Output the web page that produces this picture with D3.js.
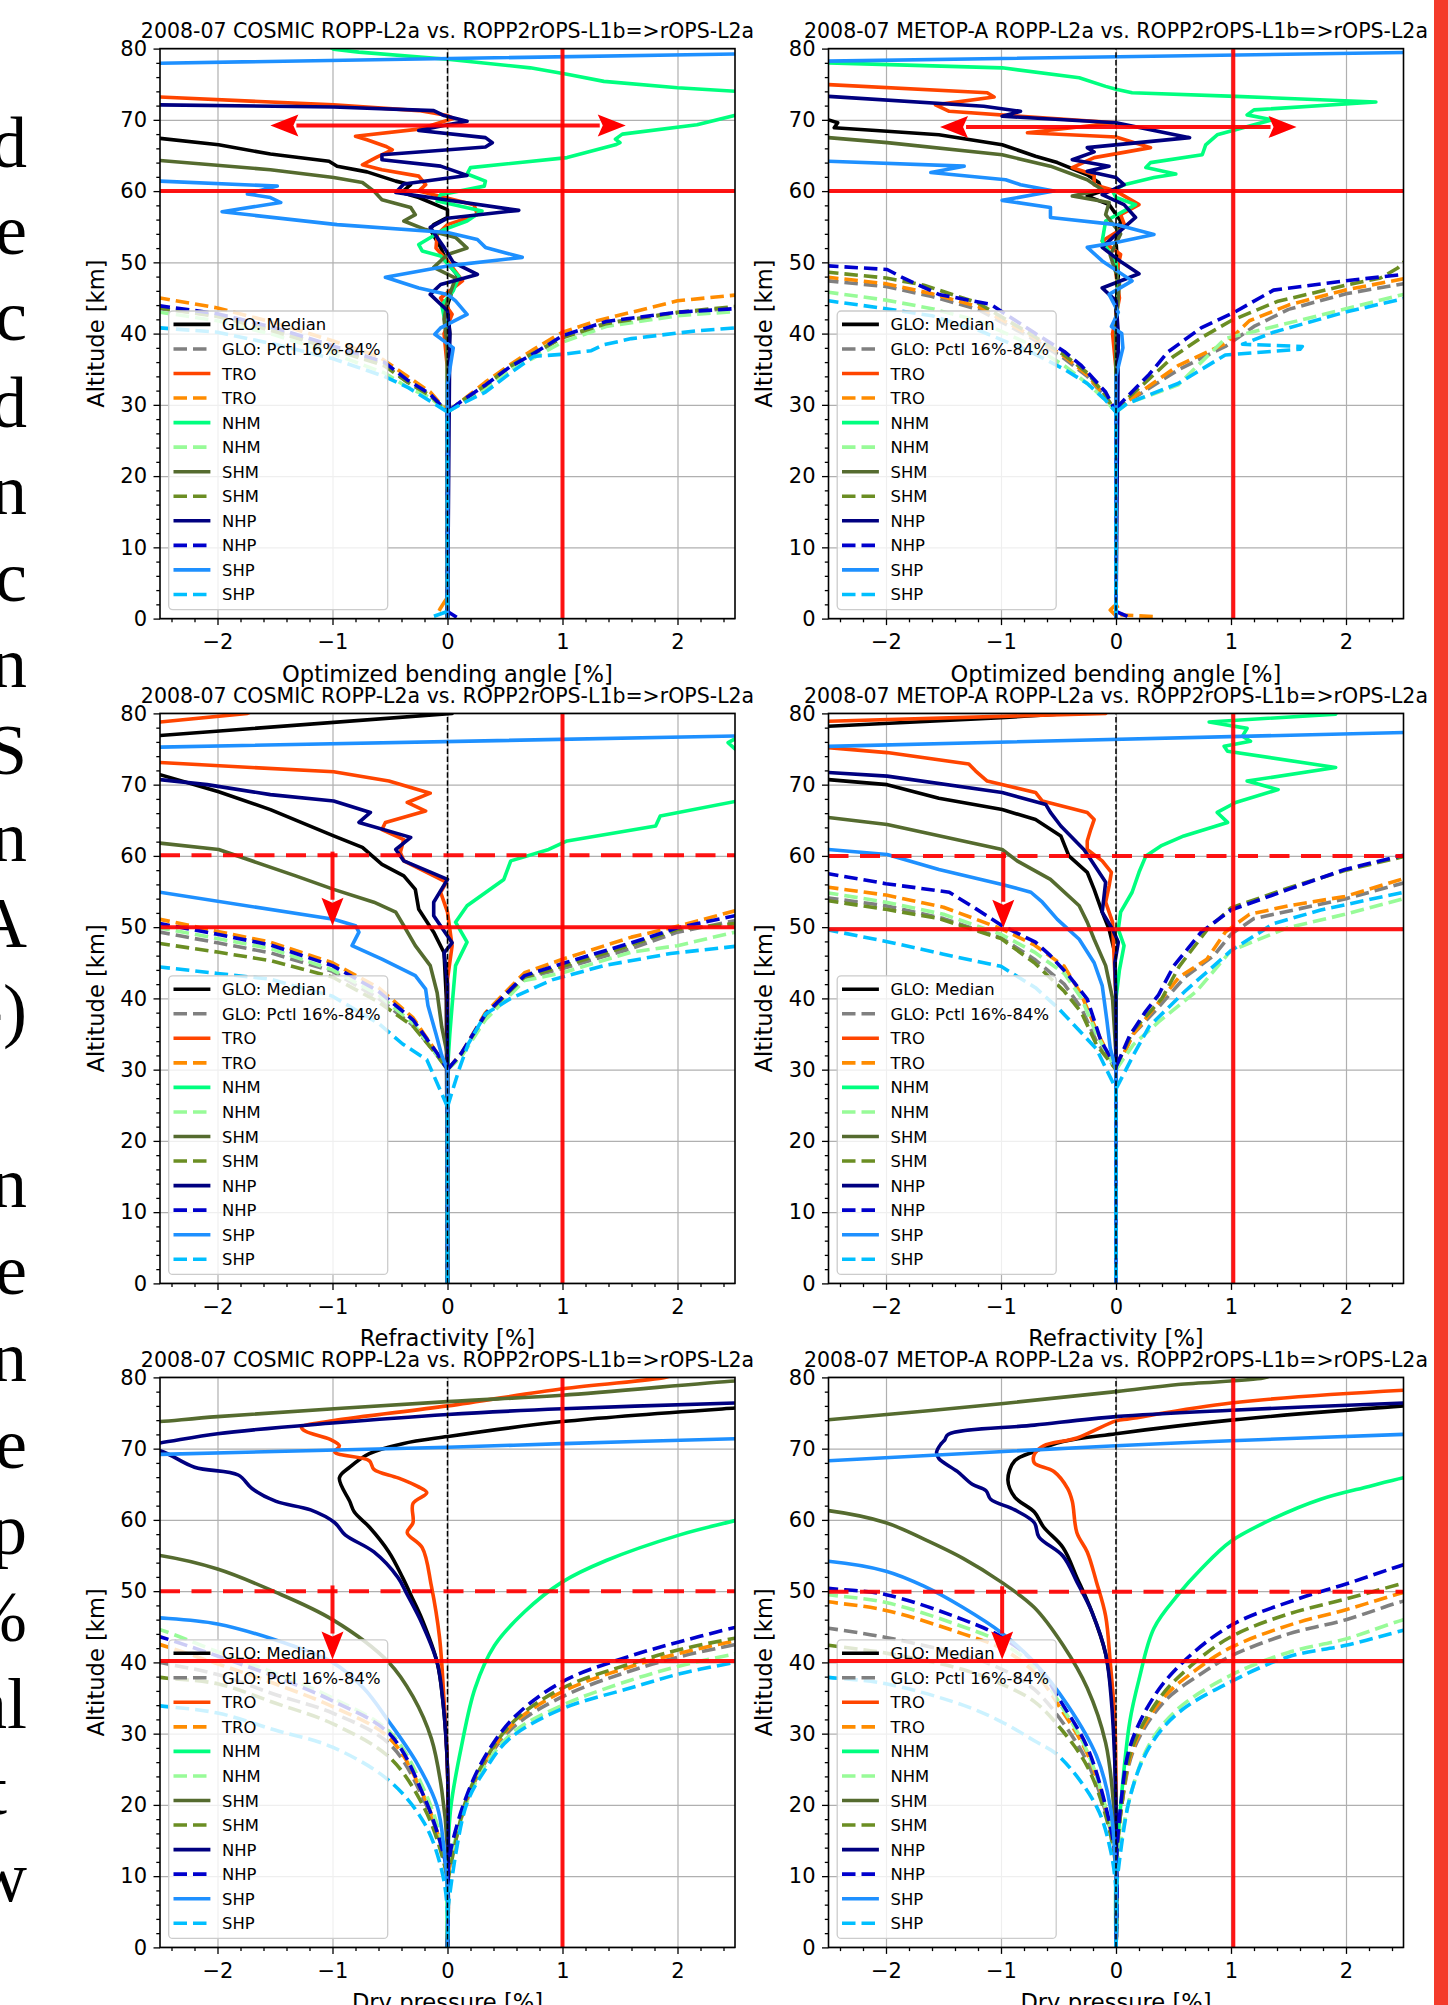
<!DOCTYPE html>
<html>
<head>
<meta charset="utf-8">
<script src="https://cdn.jsdelivr.net/npm/d3@7"></script>
<style>
  body { margin: 0; background: #fff; }
  svg  { display: block; }
</style>
</head>
<body>
<script>
/* ── Figure layout ─────────────────────────────────────────── */
const FIG_W = 1448, FIG_H = 2005;
const AX_W = 575, AX_H = 570;
const COL_LEFT = [160, 828.5];
const ROW_TOP  = [48.6, 713.4, 1377.4];
const FONT = "DejaVu Sans";
const LW = 3.6, DASH = "13.5,6";

/* ── Axes / ticks / labels ─────────────────────────────────── */
const X_DOMAIN = [-2.5, 2.5];
const Y_DOMAIN = [0, 80];
const X_TICKS  = [-2, -1, 0, 1, 2];
const Y_TICKS  = [0, 10, 20, 30, 40, 50, 60, 70, 80];
const X_MINOR  = d3.range(-12, 13).map(i => i * 0.2).filter(v => Math.abs(v - Math.round(v)) > 1e-6);
const Y_MINOR  = d3.range(0, 81, 2).filter(v => v % 10 !== 0);
const TITLES   = ["2008-07 COSMIC ROPP-L2a vs. ROPP2rOPS-L1b=>rOPS-L2a",
                  "2008-07 METOP-A ROPP-L2a vs. ROPP2rOPS-L1b=>rOPS-L2a"];
const XLABELS  = ["Optimized bending angle [%]", "Refractivity [%]", "Dry pressure [%]"];
const YLABEL   = "Altitude [km]";

/* ── Legend ────────────────────────────────────────────────── */
const LEG_LABELS = ["GLO: Median", "GLO: Pctl 16%-84%", "TRO", "TRO", "NHM", "NHM",
                    "SHM", "SHM", "NHP", "NHP", "SHP", "SHP"];
const LEG_COLORS = ["#000000", "#808080", "#ff4500", "#ff8c00", "#00ff7f", "#98fb98",
                    "#556b2f", "#6b8e23", "#000080", "#0000cd", "#1e90ff", "#00bfff"];
const LEG_DASHED = [false, true, false, true, false, true, false, true, false, true, false, true];

/* ── Text fragments cut at the left page edge ──────────────── */
const EDGE_TEXT = ["d", "e", "c", "d", "n", "c", "n", "S", "n", "A", "-)", "",
                   "n", "e", "n", "e", "p", "%", "al", "t", "w"];

/* ── Red guide lines & arrows per panel ────────────────────── */
const RED_V        = [1.0, 1.02, 1.0, 1.02, 1.0, 1.02];
const RED_H_SOLID  = [60, 60, 50, 49.7, 40.2, 40.2];
const RED_H_DASHED = [null, null, 60.1, 60, 50, 49.9];
const ARROW_2WAY   = [[-1.54, 1.55, 69.2], [-1.53, 1.57, 69.0], null, null, null, null];
const ARROW_DOWN   = [null, null, [-1, 60.6, 50.2], [-0.98, 60.5, 49.9], [-1, 50.8, 40.4], [-0.99, 50.7, 40.4]];

/* ═══ DATA: [percent deviation, altitude km] ═══════════════════ */
/* Bending angle, COSMIC */
const BA_C_MED = [[-2.7,67.5],[-2.5,67.4],[-1.99,66.5],[-1.54,65.2],[-1.03,64.2],[-0.96,63.5],[-0.7,62.7],[-0.45,61.4],[-0.32,60.9],[-0.4,59.8],[-0.25,59.1],[0,57.4],[0,56.3],[-0.12,55.3],[-0.15,54.6],[-0.06,52.1],[-0.01,50.2],[0.1,47.9],[0.05,46.5],[0,44],[0.02,40],[0,35],[0,0]];
const BA_C_GLO_LO = [[-2.7,43.6],[-2.5,43.5],[-2,42.5],[-1.5,40.5],[-1,38],[-0.55,35.7],[-0.35,33.2],[-0.15,31.3],[0,29],[0,0]];
const BA_C_GLO_HI = [[0,29],[0.12,30.4],[0.33,32.5],[0.54,35.1],[0.75,37],[1,39.5],[1.38,41.5],[2,42.9],[2.5,43.6],[2.7,43.7]];
const BA_C_TRO = [[-2.7,73.3],[-2.5,73.2],[-0.99,72.1],[-0.25,71.3],[0,70.6],[0.05,70.2],[-0.25,68.7],[-0.8,67.7],[-0.7,67.2],[-0.54,66.3],[-0.48,65.8],[-0.61,64.8],[-0.74,63.7],[-0.57,63],[-0.25,62.1],[-0.19,60.9],[-0.25,60],[0.23,58.1],[0.26,56.7],[0,55.3],[-0.09,53.9],[-0.1,52],[0,50.2],[0.13,47.4],[-0.06,45],[0.04,42.7],[-0.03,40],[0,35],[0,0]];
const BA_C_TRO_LO = [[-2.7,45.1],[-2.5,45],[-2,43.6],[-1.5,41.5],[-1,39],[-0.6,36.8],[-0.35,34],[-0.15,31.8],[0,29],[0,3],[-0.06,1.5],[-0.1,0.3]];
const BA_C_TRO_HI = [[0,29],[0.12,30.5],[0.33,33.2],[0.54,35.6],[0.75,37.8],[1,40.2],[1.3,41.8],[1.6,43],[2,44.6],[2.5,45.4],[2.7,45.6]];
const BA_C_NHM = [[-1.1,81],[-0.99,79.9],[-0.77,79.5],[0,78.5],[0.72,77.3],[1.04,76.4],[1.36,75.4],[2,74.5],[2.52,74],[2.7,73.9],[3,72],[2.7,70.8],[2.52,70.7],[2.17,69.3],[1.52,68],[1.46,67.3],[1.5,66.8],[1.46,66.5],[1.04,64.7],[0.2,63.3],[0.17,62.4],[0.33,61.4],[0.32,60.7],[-0.06,59.5],[-0.09,58.6],[0.3,57.2],[0.17,55.8],[-0.03,54.6],[-0.25,52.5],[-0.22,51.6],[-0.06,50.9],[0.1,48],[0.05,46],[-0.05,44],[0,40],[0,0]];
const BA_C_NHM_LO = [[-2.7,43.2],[-2.5,43],[-2,41.8],[-1.5,39.8],[-1,37.2],[-0.55,34.5],[-0.35,32.5],[-0.15,31],[0,29],[0,0]];
const BA_C_NHM_HI = [[0,29],[0.12,30.2],[0.33,32.2],[0.54,34.8],[0.75,36.6],[1,38.8],[1.38,41],[2,42.5],[2.5,43.1],[2.7,43.2]];
const BA_C_SHM = [[-2.7,64.4],[-2.5,64.3],[-1.54,63],[-0.99,61.9],[-0.74,61.2],[-0.64,60],[-0.57,58.8],[-0.32,57.7],[-0.28,56.7],[-0.38,55.8],[-0.19,54.6],[0.07,53.5],[0.17,52],[0,51.1],[-0.12,49.3],[0.07,47.8],[0,44.6],[-0.03,42],[0,38],[0,0]];
const BA_C_SHM_LO = [[-2.7,43.7],[-2.5,43.6],[-2,42.4],[-1.5,40.3],[-1,37.8],[-0.55,35.5],[-0.35,33.2],[-0.15,31.3],[0,29],[0,0]];
const BA_C_SHM_HI = [[0,29],[0.12,30.5],[0.33,32.7],[0.54,35.4],[0.75,37.3],[1,39.4],[1.38,41.4],[2,43],[2.5,43.8],[2.7,43.9]];
const BA_C_NHP = [[-2.7,72.2],[-2.5,72.1],[-0.99,71.8],[-0.12,71.3],[-0.03,70.6],[0.17,69.8],[0,69.3],[-0.25,68.5],[0.33,67.5],[0.39,66.8],[0.33,66.2],[-0.57,65.1],[-0.57,64.4],[-0.06,63.5],[0.17,62.2],[-0.38,61],[-0.45,59.8],[0.62,57.3],[0,56.2],[-0.15,54.9],[-0.03,52.1],[0.05,50],[0.26,48.3],[-0.06,46.9],[-0.15,45.5],[0,43.2],[0.02,40],[0,0]];
const BA_C_NHP_LO = [[-2.7,44],[-2.5,43.9],[-2,42.8],[-1.5,40.8],[-1,38.3],[-0.55,36],[-0.35,33.5],[-0.15,31.5],[0,29],[0,0]];
const BA_C_NHP_HI = [[0.08,0.2],[0,1],[0,29],[0.12,30.5],[0.33,32.8],[0.54,35.3],[0.75,37.2],[1,39.7],[1.38,41.7],[2,43],[2.5,43.5],[2.7,43.6]];
const BA_C_SHP = [[2.7,79.3],[-2.7,77.9],[-3,70],[-2.7,61.5],[-2.5,61.4],[-1.48,60.7],[-1.74,59.6],[-1.54,59.1],[-1.45,58.4],[-1.96,57.1],[-0.96,55.3],[0,54.2],[0.26,53.2],[0.33,52.1],[0.65,50.7],[0,49.5],[-0.54,47.9],[-0.25,46.4],[0,45.5],[0.07,44.6],[0.17,42.7],[-0.06,40.8],[-0.11,39.9],[0.05,38],[0.03,36],[0,33],[0,0]];
const BA_C_SHP_LO = [[-2.7,40.9],[-2.5,40.8],[-2,40.2],[-1.5,38.5],[-1,36.5],[-0.55,34],[-0.35,32.5],[-0.15,30.5],[0,29],[0,1],[-0.14,0.2]];
const BA_C_SHP_HI = [[0,29],[0.12,30.1],[0.33,31.8],[0.55,34.5],[0.75,36.8],[1,37.1],[1.25,37.6],[1.35,38.4],[1.6,39.3],[2.17,40.4],[2.5,40.8],[2.7,40.9]];

/* Bending angle, METOP-A */
const BA_M_MED = [[-2.7,70.1],[-2.5,70],[-2.42,69.6],[-2.45,68.9],[-1.99,68.4],[-1.54,67.9],[-0.99,66.5],[-0.7,64.9],[-0.51,64],[-0.25,62.3],[-0.15,61.2],[-0.12,60],[-0.25,59.3],[-0.06,58.1],[0.04,55.8],[0,53],[0.02,48],[0,44],[0,0]];
const BA_M_GLO_LO = [[-2.7,47.5],[-2.5,47.4],[-2,46.6],[-1.6,45.2],[-1.2,43.4],[-0.75,39.5],[-0.45,36.5],[-0.25,34],[-0.1,31.2],[0,29],[0,0]];
const BA_M_GLO_HI = [[0,29],[0.1,30.4],[0.55,35],[0.95,38.2],[1.2,41],[1.5,43.4],[2,45.6],[2.5,47],[2.7,47.3]];
const BA_M_TRO = [[-2.7,75],[-2.5,74.95],[-1.12,73.8],[-1.06,73.2],[-1.57,72.1],[-1.45,71.2],[-0.83,70.5],[0,69.6],[-0.77,68.2],[0,67.6],[0.3,66.1],[-0.19,64.7],[-0.38,63.3],[-0.19,62.3],[-0.19,60.9],[0,60],[0.2,58.1],[0.04,56.7],[0.08,55],[-0.12,53],[0.04,51.1],[0,48.3],[0.03,45],[-0.03,40],[0,35],[0,0]];
const BA_M_TRO_LO = [[-2.7,48],[-2.5,47.9],[-2,47],[-1.6,45.6],[-1.2,43.8],[-0.75,39.8],[-0.45,36.8],[-0.25,34.2],[-0.1,31.3],[0,29],[0,2],[-0.05,1.2],[0,0.4]];
const BA_M_TRO_HI = [[0.32,0.3],[0.05,0.5],[0,2],[0,29],[0.1,30.5],[0.54,35.5],[0.95,38.6],[1.16,41.8],[1.5,44],[1.99,46.1],[2.5,47.7],[2.7,48]];
const BA_M_NHM = [[-2.7,78.1],[-2.5,78],[-0.99,77.3],[-0.32,75.9],[-0.09,74.7],[0,74.3],[0.14,73.8],[1.04,73.3],[2.26,72.5],[1.2,71.4],[1.14,70.7],[1.36,70],[0.88,67.9],[0.78,66.5],[0.75,65.1],[0.3,64],[0.26,63.3],[0.52,62.4],[0.33,61.9],[0.07,60.9],[-0.03,60],[0,59.1],[0.17,58.1],[-0.09,55.8],[-0.12,53],[0,50],[0.02,46],[0,40],[0,0]];
const BA_M_NHM_LO = [[-2.7,45.9],[-2.5,45.8],[-2,44.7],[-1.6,43.5],[-1.2,41.8],[-0.75,38.5],[-0.45,35.5],[-0.25,33],[-0.1,30.8],[0,29],[0,0]];
const BA_M_NHM_HI = [[0,29],[0.1,30.2],[0.54,32.8],[0.95,39.3],[1.58,41.8],[2.2,44.3],[2.5,45.5],[2.7,45.7]];
const BA_M_SHM = [[-2.7,67.6],[-2.5,67.5],[-1.99,66.8],[-0.99,65.1],[-0.57,63.5],[-0.25,61.6],[-0.12,60.2],[-0.38,59.3],[-0.06,58.4],[-0.09,56.7],[0.04,54],[-0.05,51],[0.03,47],[0,42],[0,0]];
const BA_M_SHM_LO = [[-2.7,48.7],[-2.5,48.6],[-2,47.8],[-1.67,46.8],[-1.2,44.3],[-0.75,40],[-0.45,37],[-0.25,34.5],[-0.1,31.5],[0,29],[0,0]];
const BA_M_SHM_HI = [[0,29],[0.05,30.2],[0.3,33.8],[0.5,36.8],[0.75,39.5],[1,41.8],[1.4,44.5],[2,46.8],[2.3,47.8],[2.45,49.2],[2.5,50],[2.7,50.5]];
const BA_M_NHP = [[-2.7,73.4],[-2.5,73.3],[-1.15,71.9],[-0.83,71.2],[-0.99,70.5],[0,69.6],[0.64,67.5],[-0.25,66.1],[-0.19,65.5],[-0.38,64.4],[-0.06,63.5],[-0.25,62.8],[0,61.9],[0.07,60.9],[-0.12,59.5],[0.07,58.1],[0.17,56.3],[0,53.9],[-0.12,52.1],[0.05,50],[0.2,48.4],[-0.12,46.4],[0,44.6],[0.02,40],[0,0]];
const BA_M_NHP_LO = [[-2.7,49.6],[-2.5,49.5],[-1.99,49],[-1.86,47.9],[-1.54,45.5],[-1.09,44.1],[-0.7,40],[-0.45,37.5],[-0.3,35.5],[-0.09,31.8],[0,29],[0,0]];
const BA_M_NHP_HI = [[0.1,0.3],[0,1],[0,29],[0.04,30.2],[0.29,34.3],[0.45,37.4],[0.74,40.8],[1.03,43],[1.37,46.1],[1.99,47.4],[2.5,48.3],[2.7,48.5]];
const BA_M_SHP = [[2.7,79.5],[-2.7,78.2],[-3,70],[-2.7,64.3],[-2.5,64.2],[-1.32,63.5],[-1.61,62.6],[-0.96,61.6],[-0.83,60.9],[-0.54,60],[-0.99,58.7],[-0.57,57.7],[-0.57,56.3],[0,55.3],[0.33,53.9],[0,52.8],[-0.25,52.1],[-0.12,50.2],[0.14,47.4],[-0.06,45.5],[0.02,43],[-0.04,41],[0.05,40],[0.06,38],[0,34],[0,0]];
const BA_M_SHP_LO = [[-2.7,44.7],[-2.5,44.6],[-2,43.5],[-1.6,42.5],[-1.2,40.5],[-0.75,37.5],[-0.45,35],[-0.25,33],[-0.1,30.8],[0,29],[0,0]];
const BA_M_SHP_HI = [[0,29],[0.1,30.2],[0.54,33],[0.95,37],[1.6,37.8],[1.62,38.2],[1.1,38.5],[1.37,40.2],[1.99,43],[2.5,44.9],[2.7,45.1]];

/* Refractivity, COSMIC */
const N_C_MED = [[0.08,81],[0.04,80],[-2.5,76.9],[-2.7,76.7],[-3,74],[-2.7,71.6],[-2.5,71.4],[-1.99,69],[-1.54,66.5],[-0.99,62.8],[-0.74,61.2],[-0.57,58.8],[-0.38,57.2],[-0.28,55.3],[-0.25,52.5],[-0.12,49.3],[-0.03,46.4],[-0.01,40],[0,0]];
const N_C_GLO_LO = [[-2.7,49.5],[-2.5,49.3],[-2,47.8],[-1.54,46.4],[-1,43.8],[-0.6,40],[-0.3,36.2],[-0.09,32],[0,30],[0,0]];
const N_C_GLO_HI = [[0,30],[0.12,32.1],[0.33,37.5],[0.67,42.8],[1,44.2],[1.6,47],[2,49.3],[2.5,50.9],[2.7,51.2]];
const N_C_TRO = [[-1.6,81],[-1.74,80],[-2.5,78.8],[-2.7,78.6],[-3,76],[-2.7,73.2],[-2.5,73.1],[-0.99,71.8],[-0.51,70.5],[-0.15,68.8],[-0.35,67.5],[-0.19,66.3],[-0.54,64.7],[-0.57,63.7],[-0.38,62.3],[-0.41,60.5],[-0.38,59.3],[-0.01,56.3],[-0.06,54.9],[0,52.1],[0.04,47.4],[0,42.7],[0,0]];
const N_C_TRO_LO = [[-2.7,51.3],[-2.5,51.1],[-2,49.4],[-1.54,47.9],[-1,45],[-0.6,41.5],[-0.3,37.3],[-0.09,32.3],[0,30],[0,0]];
const N_C_TRO_HI = [[0,30],[0.12,32.3],[0.33,38],[0.67,43.6],[1,45.5],[1.6,48.6],[2.02,50.2],[2.5,52.3],[2.7,52.6]];
const N_C_NHM = [[2.7,77.5],[2.52,76.6],[2.44,75.9],[2.5,75],[2.7,74],[3,70],[2.7,67.8],[2.52,67.7],[1.85,65.6],[1.81,64.2],[1.04,62.1],[0.88,60.9],[0.55,59.3],[0.49,56.7],[0.17,53],[0.07,50.7],[0.17,47.9],[0.07,44.6],[0.04,39],[0.02,35],[0,30],[0,0]];
const N_C_NHM_LO = [[-2.7,50.1],[-2.5,49.9],[-2,48.4],[-1.54,47],[-1,44],[-0.6,40.5],[-0.3,36.5],[-0.09,32],[0,30],[0,0]];
const N_C_NHM_HI = [[0,30],[0.12,31.8],[0.33,37],[0.67,42.5],[1,43.6],[1.6,46.5],[2,47.4],[2.5,49.3],[2.7,49.6]];
const N_C_SHM = [[-2.7,61.9],[-2.5,61.8],[-1.99,60.9],[-1.32,57.2],[-0.99,55.3],[-0.64,53.5],[-0.45,52.1],[-0.38,50.2],[-0.28,47.4],[-0.15,44.6],[-0.09,40.8],[-0.05,36],[0,32],[0,0]];
const N_C_SHM_LO = [[-2.7,47.9],[-2.5,47.7],[-2,46.5],[-1.54,45.3],[-1,43],[-0.6,39.5],[-0.3,36.1],[-0.09,32],[0,30],[0,0]];
const N_C_SHM_HI = [[0,30],[0.12,32.2],[0.33,37.7],[0.67,43],[1,44.5],[1.6,47.5],[2,49.7],[2.5,50.5],[2.7,50.8]];
const N_C_NHP = [[-2.7,70.8],[-2.5,70.7],[-2.09,70],[-1.54,68.6],[-0.99,67.7],[-0.67,66.1],[-0.77,64.7],[-0.32,62.6],[-0.45,60.9],[-0.38,59.3],[0,56.7],[-0.12,53.5],[-0.12,51.6],[0.04,47.8],[-0.03,46.4],[0,42],[0,0]];
const N_C_NHP_LO = [[-2.7,50.7],[-2.5,50.5],[-2,49],[-1.54,47.5],[-1,44.6],[-0.6,41],[-0.3,37],[-0.09,32.3],[0,30],[0,0]];
const N_C_NHP_HI = [[0,30],[0.12,32.3],[0.33,37.8],[0.67,43.2],[1,44.9],[1.6,47.8],[2,49.9],[2.5,51.6],[2.7,51.9]];
const N_C_SHP = [[2.7,76.9],[-2.7,75.2],[-3,65],[-2.7,55],[-2.5,54.9],[-0.99,51.1],[-0.8,50.2],[-0.77,49.3],[-0.83,47.4],[-0.57,45.5],[-0.28,43.2],[-0.19,41.3],[-0.17,39],[-0.1,35],[-0.05,32],[0,30],[0,0]];
const N_C_SHP_LO = [[-2.7,44.5],[-2.5,44.4],[-2,43.5],[-1.54,42.7],[-1,40.3],[-0.6,36.5],[-0.39,33.6],[-0.18,31.4],[0,24.8],[0,0]];
const N_C_SHP_HI = [[0,24.8],[0.1,30],[0.18,33.6],[0.33,37.8],[0.55,40],[0.91,42.6],[1.36,44.6],[1.94,46.3],[2.5,47.3],[2.7,47.6]];

/* Refractivity, METOP-A */
const N_M_MED = [[-0.25,81],[-0.3,80.1],[-1,79.4],[-2.5,78.2],[-2.7,78],[-3,75],[-2.7,70.8],[-2.5,70.7],[-1.99,70],[-1.54,68.1],[-0.99,66.5],[-0.7,65.1],[-0.48,62.8],[-0.41,60],[-0.25,57.7],[-0.19,55.3],[-0.12,52.1],[-0.06,49.7],[-0.01,46.4],[0,40],[0,0]];
const N_M_GLO_LO = [[-2.7,54.2],[-2.5,54.1],[-2,53],[-1.5,51.2],[-1,48.5],[-0.71,45.5],[-0.45,42],[-0.3,38.6],[-0.17,34],[0,30],[0,0]];
const N_M_GLO_HI = [[0,30],[0.15,35],[0.35,38.4],[0.6,43],[0.85,46],[1,49],[1.2,51.2],[1.6,52.6],[2,54],[2.5,56.2],[2.7,56.5]];
const N_M_TRO = [[-0.05,81],[-0.09,80],[-2.5,78.9],[-2.7,78.8],[-3,77],[-2.7,75.3],[-2.5,75.2],[-1.99,74.5],[-1.28,72.9],[-1.22,71.9],[-1.12,70.5],[-0.7,68.9],[-0.64,67.7],[-0.25,66.1],[-0.19,65.1],[-0.22,63.7],[-0.25,62.1],[-0.25,60.9],[-0.12,59.3],[-0.04,57.7],[-0.06,55.8],[-0.09,53.5],[-0.03,50.7],[-0.02,47],[0,40],[0,0]];
const N_M_TRO_LO = [[-2.7,55.7],[-2.5,55.6],[-2,54.5],[-1.5,52.8],[-1,49.8],[-0.71,47.5],[-0.45,44.5],[-0.3,40.5],[-0.17,35.5],[0,30],[0,0]];
const N_M_TRO_HI = [[0,30],[0.15,35],[0.33,38.6],[0.55,43],[0.79,45.5],[0.95,49.3],[1.16,51.8],[1.5,53],[1.99,54.3],[2.5,56.8],[2.7,57.1]];
const N_M_NHM = [[1.95,81],[1.91,79.9],[0.81,78.8],[1.14,77.9],[1.1,76.8],[1.17,76.1],[0.94,75.4],[0.97,74.7],[1.91,72.4],[1.14,70.5],[1.41,69.3],[1.04,67.5],[0.88,66.1],[0.97,64.7],[0.59,62.8],[0.39,61.4],[0.26,60],[0.2,57.7],[0.14,54.9],[0.04,52.1],[0.02,49.7],[0.07,47.4],[0.03,44],[0,40],[0,0]];
const N_M_NHM_LO = [[-2.7,54.9],[-2.5,54.8],[-2,53.5],[-1.5,51.8],[-1,49],[-0.71,46.5],[-0.45,43.5],[-0.3,40],[-0.17,35],[0,30],[0,0]];
const N_M_NHM_HI = [[0,30],[0.15,33.5],[0.37,36.7],[0.7,41],[1,46.7],[1.49,49.9],[1.99,51.8],[2.5,54],[2.7,54.3]];
const N_M_SHM = [[-2.7,65.5],[-2.5,65.4],[-1.99,64.4],[-0.99,60.9],[-0.86,59.3],[-0.57,56.7],[-0.32,53],[-0.25,50.7],[-0.19,48.3],[-0.09,44.6],[-0.03,40],[0,32],[0,0]];
const N_M_SHM_LO = [[-2.7,53.8],[-2.5,53.7],[-2,52.5],[-1.54,51.2],[-1,48.4],[-0.71,45],[-0.45,41],[-0.3,38],[-0.17,33.5],[0,30],[0,0]];
const N_M_SHM_HI = [[0,30.4],[0.15,35.5],[0.4,40],[0.55,44.5],[0.8,49.8],[1,52.7],[1.5,55.5],[2,58],[2.5,59.9],[2.7,60]];
const N_M_NHP = [[-2.7,71.8],[-2.5,71.7],[-1.99,71.2],[-0.99,68.9],[-0.61,67.2],[-0.57,66.1],[-0.48,64.2],[-0.28,60.9],[-0.22,59.5],[-0.09,56.3],[-0.12,52.1],[-0.03,49.7],[0.02,47.9],[-0.01,45],[0,40],[0,0]];
const N_M_NHP_LO = [[-2.7,57.6],[-2.5,57.5],[-2,56.1],[-1.45,54.9],[-1.22,52.6],[-0.99,50.2],[-0.7,47.9],[-0.57,46],[-0.41,43.2],[-0.25,39.9],[-0.13,34],[0,30.4],[0,0]];
const N_M_NHP_HI = [[0,30.4],[0.12,34.8],[0.25,38],[0.37,40.5],[0.5,44.5],[0.74,49.3],[1,52.4],[1.5,55.3],[1.99,58.1],[2.5,60.1],[2.7,60.3]];
const N_M_SHP = [[2.7,77.4],[-2.7,75.3],[-3,68],[-2.7,61],[-2.5,60.9],[-1.99,60.2],[-1.54,58.1],[-0.99,56],[-0.74,54.9],[-0.64,53.5],[-0.51,51.1],[-0.32,48.3],[-0.19,45],[-0.12,41.8],[-0.08,37],[-0.05,33],[0,30],[0,0]];
const N_M_SHP_LO = [[-2.7,49.7],[-2.5,49.6],[-2,48],[-1.5,46.2],[-1,44.5],[-0.7,41.5],[-0.5,38.6],[-0.17,32.9],[0,27.3],[0,0]];
const N_M_SHP_HI = [[0,27.3],[0.15,32],[0.29,36.1],[0.6,41],[1,46.7],[1.37,50.5],[1.78,52.4],[2.5,54.9],[2.7,55.2]];

/* Dry pressure, COSMIC */
const P_C_MED = [[2.7,75.9],[2.5,75.7],[1,73.8],[0,71.7],[-0.39,70.7],[-0.68,69.3],[-0.85,67.4],[-0.94,65.9],[-0.85,62.6],[-0.81,61.1],[-0.68,59],[-0.51,55.5],[-0.39,51.9],[-0.32,49.5],[-0.22,46],[-0.09,40],[-0.04,34.6],[0,25],[0,0]];
const P_C_GLO_LO = [[-2.7,40.8],[-2.5,40],[-2,38.3],[-1.5,35.5],[-1,32.9],[-0.5,28.5],[-0.2,20.5],[-0.05,14],[0,10],[0,0]];
const P_C_GLO_HI = [[0,10],[0.16,20.2],[0.33,26],[0.58,31],[1,35.2],[1.59,38.8],[2.02,40.8],[2.5,42.5],[2.7,43.1]];
const P_C_TRO = [[1.95,80.3],[1.89,80],[1,78.4],[0,76],[-1,73.9],[-1.27,73],[-1.23,72.4],[-1.02,71.3],[-0.94,70.4],[-0.98,69.5],[-0.68,68.3],[-0.64,67.1],[-0.43,65.9],[-0.26,64.7],[-0.18,63.8],[-0.3,62.3],[-0.3,59.6],[-0.35,58.2],[-0.22,56.1],[-0.14,50.7],[-0.07,43.6],[-0.03,34.6],[0,25],[0,0]];
const P_C_TRO_LO = [[-2.7,43.3],[-2.5,42.5],[-2,39.8],[-1.5,37],[-1,33.8],[-0.5,29.3],[-0.2,21],[-0.05,14],[0,10],[0,0]];
const P_C_TRO_HI = [[0,10],[0.16,20.4],[0.33,26.2],[0.58,31.5],[1,35.9],[1.59,39.4],[2.02,41.3],[2.5,43],[2.7,43.6]];
const P_C_NHM = [[2.7,60.8],[2.5,59.9],[2.02,57.9],[1.38,54.3],[1,51.3],[0.67,47.1],[0.41,42.4],[0.24,36.4],[0.12,28.1],[0.03,19.8],[0,12],[0,0]];
const P_C_NHM_LO = [[-2.7,45.4],[-2.5,44.6],[-2,41.5],[-1.5,38.5],[-1,35],[-0.5,30.2],[-0.2,22],[-0.05,15],[0,11],[0,0]];
const P_C_NHM_HI = [[0,11],[0.16,20],[0.33,25.6],[0.58,30.3],[1,34],[1.59,37.5],[2.02,39.5],[2.5,41.2],[2.7,41.8]];
const P_C_SHM = [[2.7,79.6],[2.5,79.5],[1,77.5],[0,76.6],[-2,74.5],[-2.5,73.8],[-2.7,73.6],[-3,65],[-2.7,55.3],[-2.5,55],[-2,53.1],[-1.53,50.1],[-1,46],[-0.51,40],[-0.3,35.2],[-0.14,29.3],[-0.05,22.1],[0,13.8],[0,0]];
const P_C_SHM_LO = [[-2.7,38.5],[-2.5,37.9],[-2,37],[-1.5,34.3],[-1,31.4],[-0.5,26.6],[-0.2,19.5],[-0.05,13],[0,9],[0,0]];
const P_C_SHM_HI = [[0,9],[0.16,20.6],[0.33,26.4],[0.58,31.8],[1,36.4],[1.59,39.8],[2.02,41.8],[2.5,43.4],[2.7,44]];
const P_C_NHP = [[2.7,76.5],[2.5,76.4],[1,75.6],[0,74.8],[-1,73.6],[-2,72.1],[-2.5,70.8],[-2.7,70.4],[-2.7,69.9],[-2.5,69.7],[-2.2,67.4],[-1.82,66.3],[-1.7,64.4],[-1.49,62.6],[-1.19,61.4],[-0.98,59.6],[-0.89,57.9],[-0.64,55.5],[-0.43,51.9],[-0.35,49.5],[-0.22,45.4],[-0.09,40],[-0.04,34.6],[0,25],[0,0]];
const P_C_NHP_LO = [[-2.7,44.5],[-2.5,43.6],[-2,40.9],[-1.5,38],[-1,34.6],[-0.5,29.9],[-0.2,21],[-0.05,14],[0,10],[0,0]];
const P_C_NHP_HI = [[0,10],[0.03,13.8],[0.16,21],[0.33,26.9],[0.58,32.3],[1,37.3],[1.59,40.9],[2.02,42.9],[2.5,44.9],[2.7,45.6]];
const P_C_SHP = [[2.7,71.5],[2.5,71.4],[1,70.7],[0,70.2],[-2.5,69.2],[-2.7,69.1],[-3,60],[-2.7,46.4],[-2.5,46.25],[-2,45.4],[-1.36,42.4],[-1,40],[-0.73,36.4],[-0.51,31.7],[-0.26,25.7],[-0.09,19.8],[-0.03,13.8],[0,8],[0,0]];
const P_C_SHP_LO = [[-2.7,34.3],[-2.5,33.9],[-2,32.9],[-1.5,30.5],[-1,28.1],[-0.5,23.3],[-0.2,17.4],[-0.05,10.8],[0,5],[0,0]];
const P_C_SHP_HI = [[0,5],[0.16,19.8],[0.33,25],[0.54,29.3],[1,33.5],[1.59,36.4],[2.02,38.4],[2.5,40],[2.7,40.6]];

/* Dry pressure, METOP-A */
const P_M_MED = [[2.7,76.2],[2.5,76],[1,74],[0,72.1],[-0.46,71],[-0.71,69.6],[-0.88,68.3],[-0.94,65.6],[-0.88,63.2],[-0.71,61.1],[-0.63,59],[-0.46,56.1],[-0.34,51.9],[-0.21,47.1],[-0.09,41.2],[-0.03,34],[0,20],[0,0]];
const P_M_GLO_LO = [[-2.7,45.3],[-2.5,44.8],[-2,43.5],[-1.33,41],[-1,39.1],[-0.71,36.2],[-0.46,31.5],[-0.25,26],[-0.09,19],[0,12],[0,0]];
const P_M_GLO_HI = [[0,12],[0.05,20],[0.16,28],[0.42,34.5],[0.75,38.5],[1,40.9],[1.5,44],[2,46],[2.5,48.6],[2.7,49.3]];
const P_M_TRO = [[2.7,78.3],[2.5,78.2],[1,76.4],[0.12,74.2],[0,73.9],[-0.34,71.5],[-0.63,70.4],[-0.71,69.2],[-0.71,68],[-0.54,66.8],[-0.42,64.4],[-0.38,62.6],[-0.34,58.2],[-0.25,55.5],[-0.17,51.3],[-0.09,46.5],[-0.05,40],[-0.01,31.7],[0,20],[0,0]];
const P_M_TRO_LO = [[-2.7,49],[-2.5,48.5],[-2,47.3],[-1.33,44],[-1,42],[-0.71,38.6],[-0.46,33],[-0.25,27.2],[-0.09,19.5],[0,12],[0,0]];
const P_M_TRO_HI = [[0,12],[0.05,20],[0.15,28],[0.4,34.8],[0.7,39],[1,42.1],[1.5,45.2],[2,47.4],[2.5,49.8],[2.7,50.5]];
const P_M_NHM = [[2.7,66.5],[2.5,65.9],[2.2,64.7],[1.78,62.9],[1.37,60.2],[1,57],[0.74,53.1],[0.54,49.5],[0.33,44.8],[0.2,37.6],[0.12,31.7],[0.04,19.8],[0,10],[0,0]];
const P_M_NHM_LO = [[-2.7,50],[-2.5,49.5],[-2,48.4],[-1.33,45],[-1,42.8],[-0.71,39.3],[-0.46,33.5],[-0.25,27.5],[-0.09,19.5],[0,12],[0,0]];
const P_M_NHM_HI = [[0,11],[0.12,21],[0.29,28.5],[0.54,33.5],[1,38.2],[1.5,41.4],[2,43.3],[2.5,46],[2.7,46.8]];
const P_M_SHM = [[1.35,80.3],[1.28,79.9],[0.54,79],[0,78],[-1,76.3],[-2.5,74.05],[-2.7,73.8],[-3,68],[-2.7,61.5],[-2.5,61.3],[-2,59.6],[-1.67,57.3],[-1.33,54.6],[-1,51.3],[-0.71,47.7],[-0.46,42.4],[-0.25,36.4],[-0.09,28.7],[-0.02,19.8],[0,10],[0,0]];
const P_M_SHM_LO = [[-2.7,42.8],[-2.5,42.4],[-2,41.3],[-1.33,39],[-1,37],[-0.71,34.5],[-0.46,30.3],[-0.25,25.4],[-0.09,18.5],[0,11],[0,0]];
const P_M_SHM_HI = [[0,12],[0.05,20],[0.14,28],[0.38,35],[0.65,39.5],[1,43.6],[1.5,46.8],[2,48.9],[2.5,51.1],[2.7,51.8]];
const P_M_NHP = [[2.7,76.5],[2.5,76.4],[1,75.4],[0,74.5],[-0.71,73.3],[-1.46,72],[-1.49,71.2],[-1.52,70.7],[-1.56,69.5],[-1.54,68.6],[-1.38,66.8],[-1.25,65],[-1.13,64.1],[-1.09,62.9],[-0.88,61.4],[-0.71,59.6],[-0.67,57.6],[-0.46,54.9],[-0.34,51.3],[-0.21,47.1],[-0.09,41.2],[-0.04,34.6],[0,20],[0,0]];
const P_M_NHP_LO = [[-2.7,50.8],[-2.5,50.4],[-2,49.5],[-1.33,46],[-1,43.6],[-0.71,40],[-0.46,34],[-0.25,28.1],[-0.09,19.8],[0,12],[0,0]];
const P_M_NHP_HI = [[0,12],[0.04,19.8],[0.12,28.1],[0.33,35.2],[0.58,40],[1,45.2],[1.58,48.9],[2,51],[2.5,53.7],[2.7,54.6]];
const P_M_SHP = [[2.7,72.1],[2.5,72],[1,71.1],[0,70.4],[-2.5,68.3],[-2.7,68.1],[-3,62],[-2.7,54.3],[-2.5,54.2],[-2,52.8],[-1.67,50.7],[-1.33,47.7],[-1,44.2],[-0.71,40],[-0.42,34],[-0.17,26.9],[-0.05,19.8],[0,10],[0,0]];
const P_M_SHP_LO = [[-2.7,38.2],[-2.5,37.9],[-2,37],[-1.33,34],[-1,31.7],[-0.71,29],[-0.5,26.9],[-0.17,19.8],[-0.05,13.8],[0,8],[0,0]];
const P_M_SHP_HI = [[0,8],[0.12,21],[0.29,28.1],[0.54,32.9],[1,37.3],[1.5,40.8],[2,42.4],[2.5,44.5],[2.7,45.2]];

/* ── Panel table (order of lines = legend order) ───────────── */
const PANELS = [
  { row: 0, col: 0, smooth: false, lines: [BA_C_MED, [BA_C_GLO_LO, BA_C_GLO_HI], BA_C_TRO, [BA_C_TRO_LO, BA_C_TRO_HI], BA_C_NHM, [BA_C_NHM_LO, BA_C_NHM_HI], BA_C_SHM, [BA_C_SHM_LO, BA_C_SHM_HI], BA_C_NHP, [BA_C_NHP_LO, BA_C_NHP_HI], BA_C_SHP, [BA_C_SHP_LO, BA_C_SHP_HI]] },
  { row: 0, col: 1, smooth: false, lines: [BA_M_MED, [BA_M_GLO_LO, BA_M_GLO_HI], BA_M_TRO, [BA_M_TRO_LO, BA_M_TRO_HI], BA_M_NHM, [BA_M_NHM_LO, BA_M_NHM_HI], BA_M_SHM, [BA_M_SHM_LO, BA_M_SHM_HI], BA_M_NHP, [BA_M_NHP_LO, BA_M_NHP_HI], BA_M_SHP, [BA_M_SHP_LO, BA_M_SHP_HI]] },
  { row: 1, col: 0, smooth: false, lines: [N_C_MED, [N_C_GLO_LO, N_C_GLO_HI], N_C_TRO, [N_C_TRO_LO, N_C_TRO_HI], N_C_NHM, [N_C_NHM_LO, N_C_NHM_HI], N_C_SHM, [N_C_SHM_LO, N_C_SHM_HI], N_C_NHP, [N_C_NHP_LO, N_C_NHP_HI], N_C_SHP, [N_C_SHP_LO, N_C_SHP_HI]] },
  { row: 1, col: 1, smooth: false, lines: [N_M_MED, [N_M_GLO_LO, N_M_GLO_HI], N_M_TRO, [N_M_TRO_LO, N_M_TRO_HI], N_M_NHM, [N_M_NHM_LO, N_M_NHM_HI], N_M_SHM, [N_M_SHM_LO, N_M_SHM_HI], N_M_NHP, [N_M_NHP_LO, N_M_NHP_HI], N_M_SHP, [N_M_SHP_LO, N_M_SHP_HI]] },
  { row: 2, col: 0, smooth: true,  lines: [P_C_MED, [P_C_GLO_LO, P_C_GLO_HI], P_C_TRO, [P_C_TRO_LO, P_C_TRO_HI], P_C_NHM, [P_C_NHM_LO, P_C_NHM_HI], P_C_SHM, [P_C_SHM_LO, P_C_SHM_HI], P_C_NHP, [P_C_NHP_LO, P_C_NHP_HI], P_C_SHP, [P_C_SHP_LO, P_C_SHP_HI]] },
  { row: 2, col: 1, smooth: true,  lines: [P_M_MED, [P_M_GLO_LO, P_M_GLO_HI], P_M_TRO, [P_M_TRO_LO, P_M_TRO_HI], P_M_NHM, [P_M_NHM_LO, P_M_NHM_HI], P_M_SHM, [P_M_SHM_LO, P_M_SHM_HI], P_M_NHP, [P_M_NHP_LO, P_M_NHP_HI], P_M_SHP, [P_M_SHP_LO, P_M_SHP_HI]] }
];

/* ═══ DRAW ═════════════════════════════════════════════════════ */
const svg = d3.select("body").append("svg")
  .attr("width", FIG_W).attr("height", FIG_H);
svg.append("rect").attr("width", FIG_W).attr("height", FIG_H).attr("fill", "#fff");

// serif text cut off at the left edge of the page
svg.append("g").selectAll("text").data(EDGE_TEXT).join("text")
  .attr("x", d => d === "t" ? 7 : 27)
  .attr("y", (d, i) => 167 + i * 86.7)
  .attr("text-anchor", "end")
  .attr("font-family", "Liberation Serif, 'Times New Roman', serif")
  .attr("font-size", 72)
  .attr("fill", "#000")
  .text(d => d);

// red bar at the right edge
svg.append("rect").attr("x", 1434).attr("y", 0).attr("width", FIG_W - 1434).attr("height", FIG_H)
  .attr("fill", "#f43b2b");

PANELS.forEach(drawPanel);

function styleGrid(sel) {
  sel.select(".domain").remove();
  sel.selectAll("line").attr("stroke", "#b0b0b0").attr("stroke-width", 1.2);
}

function styleAxis(sel) {
  sel.select(".domain").remove();
  sel.selectAll("line").attr("stroke", "#000").attr("stroke-width", 1.3);
  sel.selectAll("text").attr("font-family", FONT).attr("font-size", 21).attr("fill", "#000");
}

function drawPanel(p, k) {
  const left = COL_LEFT[p.col], top = ROW_TOP[p.row], bottom = top + AX_H;
  const x = d3.scaleLinear().domain(X_DOMAIN).range([left, left + AX_W]);
  const y = d3.scaleLinear().domain(Y_DOMAIN).range([bottom, top]);
  const g = svg.append("g");

  // grid
  g.append("g").attr("transform", `translate(0,${bottom})`)
    .call(d3.axisBottom(x).tickValues(X_TICKS).tickSize(-AX_H).tickFormat(""))
    .call(styleGrid);
  g.append("g").attr("transform", `translate(${left},0)`)
    .call(d3.axisLeft(y).tickValues(Y_TICKS).tickSize(-AX_W).tickFormat(""))
    .call(styleGrid);

  // clipped plotting area
  g.append("clipPath").attr("id", "clip" + k).append("rect")
    .attr("x", left).attr("y", top).attr("width", AX_W).attr("height", AX_H);
  const plot = g.append("g").attr("clip-path", `url(#clip${k})`);

  const line = d3.line()
    .x(d => x(d[0])).y(d => y(d[1]))
    .curve(p.smooth ? d3.curveCatmullRom.alpha(0.5) : d3.curveLinear);

  p.lines.forEach((ln, i) => {
    (LEG_DASHED[i] ? ln : [ln]).forEach(arr => {
      plot.append("path")
        .attr("d", line(arr))
        .attr("fill", "none")
        .attr("stroke", LEG_COLORS[i])
        .attr("stroke-width", LW)
        .attr("stroke-linejoin", "round")
        .attr("stroke-dasharray", LEG_DASHED[i] ? DASH : null);
    });
  });

  // zero reference
  plot.append("line").attr("x1", x(0)).attr("x2", x(0)).attr("y1", y(0)).attr("y2", y(80))
    .attr("stroke", "#000").attr("stroke-width", 1.5).attr("stroke-dasharray", "5.5,2.4");

  // legend
  const boxW = 219, boxH = 298.6;
  const bx = left + 8.7, by = bottom - 9 - boxH;
  const lg = g.append("g");
  lg.append("rect").attr("x", bx).attr("y", by).attr("width", boxW).attr("height", boxH)
    .attr("rx", 4).attr("fill", "#fff").attr("fill-opacity", 0.8)
    .attr("stroke", "#cccccc").attr("stroke-width", 1.3);
  LEG_LABELS.forEach((lab, i) => {
    const cy = by + 13.4 + i * 24.55;
    lg.append("line").attr("x1", left + 13.5).attr("x2", left + 50.4).attr("y1", cy).attr("y2", cy)
      .attr("stroke", LEG_COLORS[i]).attr("stroke-width", LW)
      .attr("stroke-dasharray", LEG_DASHED[i] ? DASH : null);
    lg.append("text").attr("x", left + 62).attr("y", cy + 6)
      .attr("font-family", FONT).attr("font-size", 16.4).attr("fill", "#000")
      .text(lab);
  });

  // red guides (drawn above the legend)
  const over = g.append("g").attr("clip-path", `url(#clip${k})`);
  const red = over.append("g").attr("stroke", "#ff0000").attr("stroke-opacity", 0.92).attr("stroke-width", 4);
  red.append("line").attr("x1", x(RED_V[k])).attr("x2", x(RED_V[k])).attr("y1", y(0)).attr("y2", y(80));
  red.append("line").attr("x1", x(-2.5)).attr("x2", x(2.5))
    .attr("y1", y(RED_H_SOLID[k])).attr("y2", y(RED_H_SOLID[k]));
  if (RED_H_DASHED[k] != null) {
    red.append("line").attr("x1", x(-2.5)).attr("x2", x(2.5))
      .attr("y1", y(RED_H_DASHED[k])).attr("y2", y(RED_H_DASHED[k]))
      .attr("stroke-dasharray", "20,11.5");
  }

  const HL = 28, HW = 22;
  if (ARROW_2WAY[k]) {
    const [a0, a1, alt] = ARROW_2WAY[k];
    const xa = x(a0), xb = x(a1), ya = y(alt);
    red.append("line").attr("x1", xa + HL - 2).attr("x2", xb - HL + 2).attr("y1", ya).attr("y2", ya);
    over.append("path").attr("fill", "#ff0000")
      .attr("d", `M${xa},${ya}L${xa + HL},${ya - HW / 2}L${xa + HL - 5},${ya}L${xa + HL},${ya + HW / 2}Z`);
    over.append("path").attr("fill", "#ff0000")
      .attr("d", `M${xb},${ya}L${xb - HL},${ya - HW / 2}L${xb - HL + 5},${ya}L${xb - HL},${ya + HW / 2}Z`);
  }
  if (ARROW_DOWN[k]) {
    const [ax, a0, a1] = ARROW_DOWN[k];
    const xa = x(ax), y0 = y(a0), y1 = y(a1);
    red.append("line").attr("x1", xa).attr("x2", xa).attr("y1", y0).attr("y2", y1 - HL + 2);
    over.append("path").attr("fill", "#ff0000")
      .attr("d", `M${xa},${y1}L${xa - HW / 2},${y1 - HL}L${xa},${y1 - HL + 5}L${xa + HW / 2},${y1 - HL}Z`);
  }

  // frame
  g.append("rect").attr("x", left).attr("y", top).attr("width", AX_W).attr("height", AX_H)
    .attr("fill", "none").attr("stroke", "#000").attr("stroke-width", 1.6);

  // axes
  g.append("g").attr("transform", `translate(0,${bottom})`)
    .call(d3.axisBottom(x).tickValues(X_TICKS).tickSize(6.5).tickPadding(9.2).tickFormat(d3.format("d")))
    .call(styleAxis);
  g.append("g").attr("transform", `translate(0,${bottom})`)
    .call(d3.axisBottom(x).tickValues(X_MINOR).tickSize(3.7).tickFormat(""))
    .call(styleAxis);
  g.append("g").attr("transform", `translate(${left},0)`)
    .call(d3.axisLeft(y).tickValues(Y_TICKS).tickSize(6.5).tickPadding(6.5).tickFormat(d3.format("d")))
    .call(styleAxis);
  g.append("g").attr("transform", `translate(${left},0)`)
    .call(d3.axisLeft(y).tickValues(Y_MINOR).tickSize(3.7).tickFormat(""))
    .call(styleAxis);

  // texts
  g.append("text").attr("x", left + AX_W / 2).attr("y", top - 10.7)
    .attr("text-anchor", "middle").attr("font-family", FONT).attr("font-size", 20.5)
    .text(TITLES[p.col]);
  g.append("text").attr("x", left + AX_W / 2).attr("y", bottom + 63)
    .attr("text-anchor", "middle").attr("font-family", FONT).attr("font-size", 22.6)
    .text(XLABELS[p.row]);
  g.append("text")
    .attr("transform", `translate(${left - 56.5},${(top + bottom) / 2}) rotate(-90)`)
    .attr("text-anchor", "middle").attr("font-family", FONT).attr("font-size", 22.6)
    .text(YLABEL);
}
</script>
</body>
</html>
